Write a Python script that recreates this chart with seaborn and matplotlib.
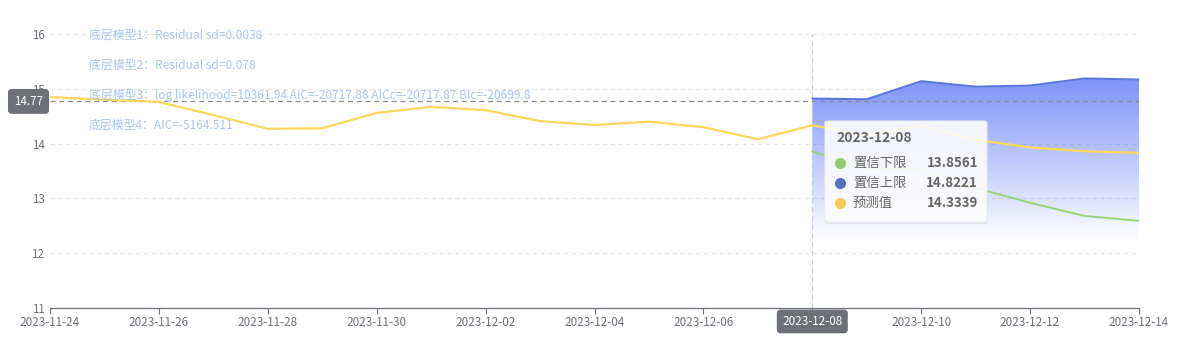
import numpy as np
import pandas as pd
import matplotlib
matplotlib.use("Agg")
import matplotlib.pyplot as plt
import matplotlib.dates as mdates
from matplotlib.patches import FancyBboxPatch, Polygon
from matplotlib.lines import Line2D
import seaborn as sns

# 数据
dates = pd.date_range("2023-11-24", "2023-12-14", freq="D")
pred = [14.85, 14.80, 14.76, 14.52, 14.27, 14.28, 14.56, 14.67, 14.61, 14.41, 14.34,
        14.40, 14.30, 14.08, 14.3339, 14.15, 14.33, 14.07, 13.93, 13.86, 13.83]
band_dates = pd.date_range("2023-12-08", "2023-12-14", freq="D")
upper = [14.8221, 14.81, 15.14, 15.04, 15.06, 15.19, 15.17]
lower = [13.8561, 13.55, 13.53, 13.19, 12.92, 12.68, 12.59]
models = ["底层模型1：Residual sd=0.0038",
          "底层模型2：Residual sd=0.078",
          "底层模型3：log likelihood=10361.94 AIC=-20717.88 AICc=-20717.87 BIc=-20699.8",
          "底层模型4：AIC=-5164.511"]
y_ticks = [11, 12, 13, 14, 15, 16]
cursor_y = 14.77
hover = pd.Timestamp("2023-12-08")

sns.set_theme(style="white")
plt.rcParams["font.family"] = ["Noto Sans CJK SC", "DejaVu Sans"]

W, H = 1181, 351
fig = plt.figure(figsize=(W / 100, H / 100), dpi=100)
ax = fig.add_axes([50 / W, (H - 308) / H, (1139 - 50) / W, (308 - 34) / H])

def fx(x):
    return x / W

def fy(y):
    return (H - y) / H

# 渐变填充 (置信上限)
xn = mdates.date2num(band_dates)
verts = list(zip(xn, upper)) + [(xn[-1], 11), (xn[0], 11)]
clip = Polygon(verts, closed=True, facecolor="none", edgecolor="none")
ax.add_patch(clip)
rgba = np.zeros((256, 1, 4))
rgba[..., 0], rgba[..., 1], rgba[..., 2] = 84 / 255, 112 / 255, 246 / 255
rgba[..., 3] = np.linspace(0.76, 0, 256).reshape(-1, 1)
im = ax.imshow(rgba, extent=[xn[0], xn[-1], 12.2, max(upper)], aspect="auto",
               origin="upper", zorder=1)
im.set_clip_path(clip)

sns.lineplot(x=band_dates, y=upper, color="#5b77dc", lw=1.4, ax=ax, zorder=3)
sns.lineplot(x=band_dates, y=lower, color="#95d57a", lw=1.4, ax=ax, zorder=3)
sns.lineplot(x=dates, y=pred, color="#fdd65c", lw=1.6, ax=ax, zorder=4)

ax.set_xlim(mdates.date2num(dates[0]), mdates.date2num(dates[-1]))
ax.set_ylim(11, 16)
ax.set_yticks(y_ticks)
ax.set_xticks(dates[::2])
ax.xaxis.set_major_formatter(mdates.DateFormatter("%Y-%m-%d"))
ax.grid(axis="y", color="#e0e6f1", ls=(0, (4, 3)), lw=0.8)
for s in ["top", "right", "left"]:
    ax.spines[s].set_visible(False)
ax.spines["bottom"].set_color("#6e7079")
ax.spines["bottom"].set_linewidth(0.9)
ax.tick_params(axis="x", colors="#6e7079", labelsize=8.4, length=4, width=0.8,
               direction="out", pad=1.5, bottom=True)
ax.tick_params(axis="y", colors="#6e7079", labelsize=8.4, length=0, pad=4)
ax.set_xlabel("")
ax.set_ylabel("")

# 十字准线
ax.axvline(hover, color="#c8ccd6", ls=(0, (4, 3)), lw=0.9, zorder=2)
ax.axhline(cursor_y, color="#8a8a8a", ls=(0, (4, 3)), lw=0.9, zorder=2)
ax.annotate(f"{cursor_y:.2f}", xy=(0, cursor_y), xycoords=("axes fraction", "data"),
            xytext=(-5, 0), textcoords="offset points", ha="right", va="center",
            color="white", fontsize=8.4,
            bbox=dict(boxstyle="round,pad=0.45,rounding_size=0.25", fc="#6e7079", ec="#6e7079"),
            zorder=10, annotation_clip=False)
ax.annotate(hover.strftime("%Y-%m-%d"), xy=(hover, 0), xycoords=("data", "axes fraction"),
            xytext=(0, -5), textcoords="offset points", ha="center", va="top",
            color="white", fontsize=8.4,
            bbox=dict(boxstyle="round,pad=0.4,rounding_size=0.25", fc="#6e7079", ec="#6e7079"),
            zorder=10, annotation_clip=False)

# 模型说明
for i, t in enumerate(models):
    fig.text(fx(89), fy(35 + 30 * i), t, color="#a8c6ee", fontsize=8.6, ha="left", va="center")

# 提示框
shadow = FancyBboxPatch((fx(826), fy(224)), fx(987 - 825), (222 - 121) / H,
                        boxstyle="round,pad=0,rounding_size=0.004", transform=fig.transFigure,
                        fc="#000000", ec="none", alpha=0.06, zorder=20)
fig.patches.append(shadow)
box = FancyBboxPatch((fx(825), fy(222)), fx(987 - 825), (222 - 121) / H,
                     boxstyle="round,pad=0,rounding_size=0.004", transform=fig.transFigure,
                     fc="white", ec="#eeeeee", lw=0.8, alpha=0.88, zorder=21)
fig.patches.append(box)
idx = list(band_dates).index(hover)
rows = [("置信下限", lower[idx], "#91cc75"),
        ("置信上限", upper[idx], "#5470c6"),
        ("预测值", pred[list(dates).index(hover)], "#fac858")]
fig.text(fx(836), fy(138), hover.strftime("%Y-%m-%d"), color="#666666", fontsize=10,
         fontweight="bold", ha="left", va="center", zorder=22)
for i, (name, val, c) in enumerate(rows):
    yy = 163 + 20 * i
    fig.lines.append(Line2D([fx(840)], [fy(yy)], transform=fig.transFigure, marker="o",
                            ms=7, mfc=c, mec=c, ls="none", zorder=22))
    fig.text(fx(853), fy(yy), name, color="#666666", fontsize=9.6, ha="left", va="center", zorder=22)
    fig.text(fx(978), fy(yy), f"{val:.4f}", color="#666666", fontsize=9.6, fontweight="bold",
             ha="right", va="center", zorder=22)

fig.savefig("out.png", dpi=100)
